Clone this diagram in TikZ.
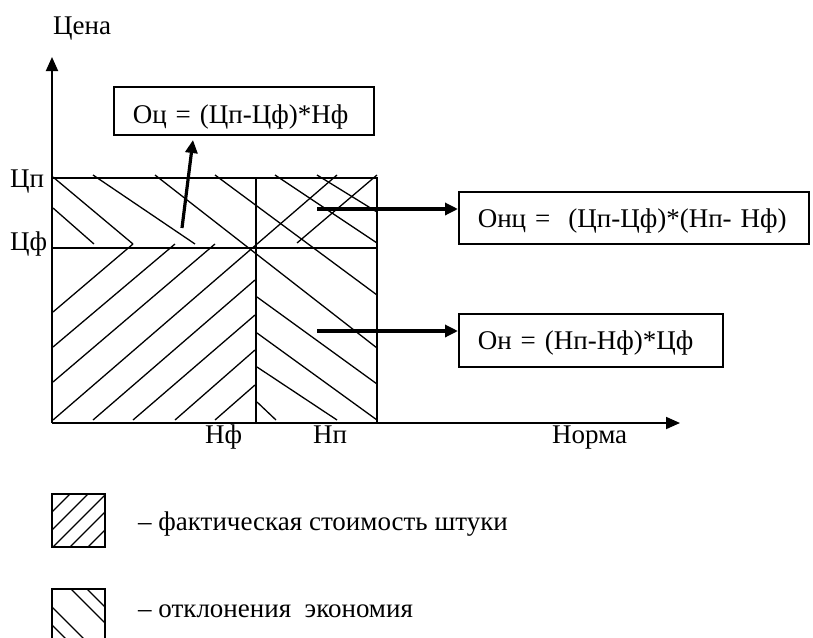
\documentclass[tikz,border=0pt]{standalone}
\usepackage{fontspec}
\setmainfont{Liberation Serif}
\usetikzlibrary{arrows.meta}

\begin{document}
\begin{tikzpicture}[x=1pt,y=-1pt,
   lbl/.style={font=\fontsize{27}{32}\selectfont,inner sep=0pt,anchor=base west},
   formula/.style={draw,line width=1.6pt,font=\fontsize{27}{32}\selectfont,
                   inner ysep=0pt,inner xsep=19pt,align=left,anchor=base west},
   hatch/.style={line width=1.3pt},
   axis/.style={line width=1.8pt,-{Triangle[length=14pt,width=12pt]}},
   ar/.style={line width=3.2pt,-{Triangle[length=13pt,width=12pt]}}]
  \useasboundingbox (0,0) rectangle (813,637);
  % axes
  \coordinate (O) at (52,423);
  \coordinate (ytop) at (52,57);
  \coordinate (xend) at (680,423);
  \draw[axis] (O) -- (ytop);
  \draw[axis] (O) -- (xend);
  % cells
  \draw[hatch] (52,178) -- (377,178) -- (377,423);
  \draw[hatch] (52,248) -- (377,248);
  \draw[hatch] (256,178) -- (256,423);
  % hatching: actual cost
  \foreach \xa/\ya/\xb/\yb in {53/312/133/244,53/347/175/244,53/382/215/244,
                     53/420/337/175,93/420/255/280,133/420/255/315,
                     175/420/255/350,215/420/255/385,297/243/377/175}
    {\draw[hatch] (\xa,\ya) -- (\xb,\yb);}
  % hatching: deviations
  \foreach \xa/\ya/\xb/\yb in {53/208/94/244,53/177/133/244,93/175/195/244,
                     155/175/377/348,215/175/377/295,275/175/377/243,
                     317/175/377/212,257/297/377/384,257/333/377/420,
                     257/367/337/420,257/402/276/420}
    {\draw[hatch] (\xa,\ya) -- (\xb,\yb);}
  % labels
  \node[lbl] (cena) at (53,34) {Цена};
  \node[lbl] (cp) at (10,187) {Цп};
  \node[lbl] (cf) at (10,250) {Цф};
  \node[lbl] (nf) at (205,443) {Нф};
  \node[lbl] (np) at (313,443) {Нп};
  \node[lbl] (norma) at (552,443) {Норма};
  % formulas
  \node[formula,text width=222pt,text height=36pt,text depth=12pt] (oc) at (113,123)
    {Оц = (Цп-Цф)*Нф};
  \node[formula,text width=312pt,text height=35pt,text depth=17pt] (onc) at (458,227)
    {Онц =~ (Цп-Цф)*(Нп- Нф)};
  \node[formula,text width=226pt,text height=35pt,text depth=18pt] (on) at (458,349)
    {Он = (Нп-Нф)*Цф};
  \coordinate (oc-from) at (182,228);
  \coordinate (oc-to) at (193,140);
  \coordinate (onc-from) at (317,209);
  \coordinate (on-from) at (317,331);
  \draw[ar] (oc-from) -- (oc-to);
  \draw[ar] (onc-from) -- (onc-from -| onc.west);
  \draw[ar] (on-from) -- (on-from -| on.west);
  % legend
  \draw[hatch] (52,494) rectangle (105,547);
  \begin{scope}
    \clip (52,494) rectangle (105,547);
    \foreach \c in {564,582,600,617,635}
      {\draw[hatch] ({\c-480},480) -- ({\c-560},560);}
  \end{scope}
  \draw[hatch] (52,589) rectangle (105,650);
  \begin{scope}
    \clip (52,589) rectangle (105,650);
    \foreach \c in {502,518,555,573}
      {\draw[hatch] ({580-\c},580) -- ({660-\c},660);}
  \end{scope}
  \node[lbl] (leg1) at (138,530) {– фактическая стоимость штуки};
  \node[lbl] (leg2) at (138,617) {– отклонения~ экономия};
\end{tikzpicture}
\end{document}
